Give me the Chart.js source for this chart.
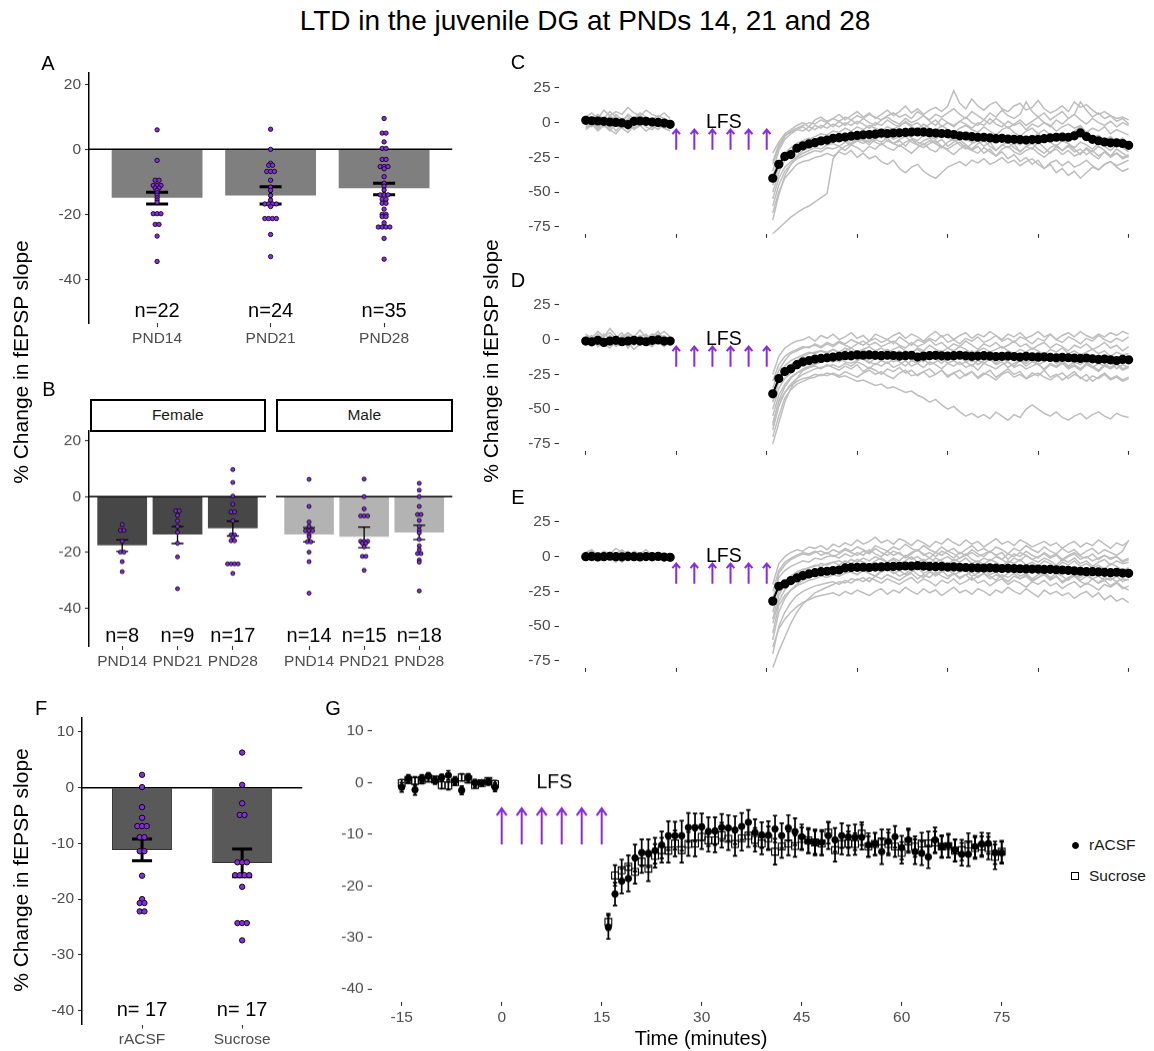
<!DOCTYPE html>
<html>
<head>
<meta charset="utf-8">
<script src="https://cdn.jsdelivr.net/npm/chart.js@4.4.1/dist/chart.umd.min.js"></script>
<style>
  body { margin: 0; width: 1154px; height: 1051px; overflow: hidden; background: #fff; position: relative;
         font-family: "Liberation Sans", Arial, sans-serif; }
  canvas { position: absolute; }
  .t { position: absolute; transform: translate(-50%, -50%); white-space: nowrap; color: #000; line-height: 1; }
  .yt { transform: translate(-50%, -50%) rotate(-90deg); font-size: 21px; }
  .strip { position: absolute; box-sizing: border-box; border: 2px solid #000; background: #fff;
           font-size: 15.5px; color: #1a1a1a; display: flex; align-items: center; justify-content: center; }
  .key { position: absolute; font-size: 15.5px; color: #1a1a1a; line-height: 1; transform: translateY(-50%); }
</style>
</head>
<body>
<script>
// ---------- panel A : all animals ----------
const ageGroups = ['PND14', 'PND21', 'PND28'];
const ageN = [22, 24, 35];
const ageMean = [-14.9, -14.2, -12.0];
const ageLo = [-16.8, -16.8, -14.0];
const ageHi = [-13.2, -11.5, -10.4];
const pnd14 = [6, -3.4, -9.5, -9.5, -11.1, -11.1, -11.1, -11.9, -11.9, -12.6, -13.4, -14.1, -14.9, -15.6, -16.3, -19.8, -19.8, -19.8, -23.1, -23.1, -26.7, -34.5];
const pnd21 = [6.2, 0, -4.3, -4.9, -4.9, -6.8, -6.8, -6.8, -9.5, -11.6, -12.6, -14.2, -15.6, -16.8, -16.8, -16.8, -16.8, -17.6, -21.3, -21.3, -21.3, -21.3, -26.2, -33];
const pnd28 = [9.5, 5, 5, 2.3, 0.3, 0.3, -3.1, -3.1, -5.3, -5.3, -5.3, -6, -8.4, -10.4, -11.3, -12.5, -14, -14, -14, -15.4, -15.4, -16.6, -16.6, -18.4, -20, -20, -20.7, -20.7, -22.6, -23.9, -23.9, -23.9, -23.9, -27.4, -33.8];

// ---------- panel B : by sex ----------
const femaleN = [8, 9, 17];
const femaleMean = [-17.4, -13.6, -11.3];
const femaleLo = [-19.6, -16.8, -14.1];
const femaleHi = [-15.5, -10.7, -8.8];
const maleN = [14, 15, 18];
const maleMean = [-13.6, -14.4, -12.8];
const maleLo = [-16.2, -18.3, -15.4];
const maleHi = [-11.1, -10.9, -10.3];
const f14 = [-10, -12.1, -12.1, -16, -19.9, -19.9, -23.3, -26.9];
const f21 = [-5.1, -5.1, -6.7, -8.7, -10.7, -12.8, -16.7, -21.6, -33];
const f28 = [9.7, 5.1, 0.2, -2.7, -5.5, -5.5, -8.7, -13.7, -13.7, -14.5, -15.8, -15.8, -24.1, -24.1, -24.1, -24.1, -27.5];
const m14 = [6.2, -3.5, -9.1, -10.7, -12.2, -12.2, -12.2, -13.7, -14.5, -16.2, -16.2, -19.9, -23.3, -34.6];
const m21 = [6.3, 0, -4.4, -6.9, -6.9, -6.9, -16, -16, -16, -16.7, -16.7, -18, -21.4, -21.4, -26.4];
const m28 = [4.8, 2.3, 0, -3.5, -6.4, -6.4, -8.5, -10.7, -12, -13, -15.3, -17.6, -19, -20.4, -20.4, -22.7, -23.5, -33.8];

// ---------- panel F : rACSF vs sucrose ----------
const drugGroups = ['rACSF', 'Sucrose'];
const drugN = [17, 17];
const drugMean = [-11.2, -13.5];
const drugLo = [-13.1, -16.0];
const drugHi = [-9.2, -11.0];
const racsfDots = [2.3, 0.1, -3.5, -5.4, -6.9, -6.9, -6.9, -8.9, -8.9, -11.4, -11.4, -15.8, -20, -20.7, -20.7, -22.2, -22.2];
const sucroseDots = [6.3, 0.5, -2.8, -4.9, -4.9, -13.4, -13.4, -13.4, -15.7, -15.7, -15.7, -15.7, -17.8, -24.3, -24.3, -24.3, -27.4];

// ---------- time axes ----------
const baseTimes = Array.from({ length: 15 }, (_, i) => i - 15);   // -15 .. -1
const postTimes = Array.from({ length: 60 }, (_, i) => i + 16);   // 16 .. 75
const lfsTimes = [0, 3, 6, 9, 12, 15];
const timeTicks = [-15, 0, 15, 30, 45, 60, 75];
const traceTicks = [25, 0, -25, -50, -75];
const barTicks = [20, 0, -20, -40];
const drugTicks = [10, 0, -10, -20, -30, -40];

// ---------- panel C : PND14 ----------
const meanC = [1.7, 1.4, 1.2, 1.0, 0.5, 0.2, -0.2, -1.4, 1.0, 1.2, 1.0, 0.5, 0.2, -0.3, -1.2,
  -40, -30, -24.3, -23, -18.4, -16.7, -15.3, -14.4, -13.2, -12.5,
  -11.3, -10.8, -10.4, -9.7, -9.2, -8.7, -8.5, -8.3, -7.5, -7.8,
  -7.5, -7.3, -7.0, -6.8, -6.7, -6.8, -7.2, -7.5, -7.8, -7.9,
  -8.5, -9.5, -9.6, -10.0, -10.5, -10.5, -11.0, -11.5, -11.3, -11.8,
  -12.0, -12.2, -12.5, -12.2, -12.2, -11.5, -11.0, -10.5, -10.3, -10.5,
  -9.5, -7.4, -10.0, -12.0, -13.0, -13.9, -14.5, -14.5, -15.0, -16.3];
const tracesC = [
  [4, 7, 3, 9, 5, 8, 6, 11, 7, 5, 9, 6, 4, 7, 3,
   -22, -14, -8, -5, -2, 0, -3, 2, 4, 1, 3, 6, 2, 5, 8, 4, 7, 3, 6, 9, 5, 8, 12, 7, 10, 6, 9, 11, 8, 12,
   23, 14, 10, 17, 12, 9, 13, 15, 10, 8, 12, 14, 9, 11, 16, 10, 7, 9, 12, 8, 15, 11, 13, 9, 6, 8, 5, 3, 4, 2],
  [-3, 0, -5, -2, -6, -1, -4, -7, -2, 0, -3, -5, -1, -4, -6,
   -80, -76, -72, -68, -65, -62, -60, -57, -54, -51, -26, -20, -17, -15, -13, -12, -14, -10, -11, -9,
   -12, -10, -8, -11, -13, -9, -10, -12, -8, -11, -13, -10, -12, -14, -11, -9, -13, -15, -12, -10,
   -14, -16, -13, -11, -15, -12, -14, -17, -13, -15, -18, -14, -16, -19, -15, -17, -20, -16, -18, -21],
  [2, -1, 4, 0, 3, -2, 1, 5, -1, 2, 0, 3, -2, 1, -1,
   -65, -50, -40, -35, -30, -28, -27, -25, -24, -22, -24, -21, -23, -20, -25, -22, -26, -24, -28, -30,
   -27, -33, -36, -32, -30, -35, -38, -40, -36, -32, -30, -28, -31, -27, -29, -26, -30, -28, -25, -29,
   -27, -31, -28, -26, -30, -33, -29, -27, -31, -28, -32, -30, -27, -31, -34, -30, -28, -32, -35, -33],
  [-2, 1, -4, 0, -3, 2, -1, -5, 1, -2, 0, -3, 1, -2, -4,
   -55, -40, -32, -28, -25, -22, -20, -18, -19, -16, -15, -17, -14, -16, -13, -15, -12, -14, -16, -13,
   -15, -17, -14, -12, -16, -18, -15, -13, -17, -19, -16, -14, -18, -20, -17, -22, -19, -24, -21, -26,
   -23, -28, -25, -30, -27, -33, -30, -36, -33, -38, -35, -40, -36, -32, -34, -30, -28, -31, -29, -27],
  [3, 1, 5, 2, 0, 4, 1, -2, 3, 5, 2, 0, 3, 1, 0,
   -35, -20, -12, -8, -5, -3, -6, -2, -4, 0, -3, 1, -2, 2, -1, 3, 0, -2, 2, 4,
   1, -1, 3, 0, 2, 5, 1, -2, 3, 0, -3, 1, 4, 0, -2, 2, -1, 3, 0, -4,
   -1, 2, -2, 1, 4, 0, -3, 2, -1, 3, 6, 2, -1, 3, 0, -2, 1, -3, 0, -2],
  [0, -3, 2, -1, -4, 1, -2, 3, 0, -2, 1, -1, -3, 0, -2,
   -45, -32, -25, -20, -18, -15, -14, -12, -10, -11, -9, -8, -10, -7, -9, -6, -8, -5, -7, -9,
   -6, -8, -4, -7, -5, -9, -6, -8, -10, -7, -9, -11, -8, -10, -12, -9, -11, -8, -13, -10,
   -12, -9, -14, -11, -8, -12, -10, -13, -9, -11, -8, -6, -10, -12, -14, -11, -15, -13, -17, -16],
  [5, 2, 6, 3, 8, 4, 1, 6, 3, 7, 4, 2, 5, 3, 1,
   -30, -18, -10, -6, -4, -2, 0, -1, 2, 0, 3, 1, 4, 2, 5, 3, 6, 4, 2, 5,
   7, 4, 6, 3, 8, 5, 2, 6, 4, 7, 10, 6, 3, 8, 5, 2, 7, 4, 9, 5,
   3, 6, 15, 8, 4, 7, 2, 5, 8, 3, 6, 15, 9, 4, 7, 3, 5, 1, 3, -1],
  [-4, -1, -6, -2, -5, -8, -3, -1, -5, -2, -6, -3, -1, -4, -2,
   -60, -45, -35, -30, -26, -24, -22, -20, -21, -18, -19, -17, -20, -16, -18, -21, -17, -19, -15, -18,
   -20, -16, -19, -22, -18, -15, -19, -21, -17, -20, -23, -19, -16, -20, -22, -18, -21, -24, -19, -17,
   -21, -23, -20, -18, -22, -25, -21, -19, -23, -20, -24, -22, -19, -23, -26, -21, -24, -22, -25, -23],
  [1, 4, -1, 3, 0, 6, 2, -1, 4, 1, 3, -2, 2, 0, 1,
   -28, -16, -9, -7, -5, -6, -3, -5, -2, -4, -1, -3, 0, -2, 1, -1, -4, 0, -2, 2,
   -1, -3, 1, -2, 0, -4, -1, 2, -3, 0, -2, 1, -1, -4, 0, -2, 3, -1, -3, 1,
   -2, 0, -5, -1, -3, 0, -2, -6, -3, -1, -4, -2, -7, -4, -6, -3, -8, -5, -7, -9],
  [-1, 2, -3, 1, -2, 0, 3, -4, 0, 2, -1, 1, -2, 0, -3,
   -70, -52, -38, -30, -24, -20, -18, -16, -14, -15, -13, -14, -12, -15, -11, -13, -16, -12, -14, -11,
   -15, -13, -17, -12, -14, -16, -13, -15, -18, -14, -12, -16, -19, -15, -13, -17, -14, -20, -16, -18,
   -15, -21, -17, -19, -14, -18, -22, -17, -20, -16, -19, -23, -18, -21, -17, -20, -24, -19, -22, -25],
  [-5, -2, 1, -3, 0, -6, -1, 2, -4, -1, 1, -2, -5, -1, 0,
   -50, -36, -27, -21, -17, -15, -12, -10, -8, -9, -6, -7, -4, -6, -3, -5, -2, -4, -6, -3,
   -5, -2, 0, -3, -5, -1, -4, -6, -2, -5, -8, -4, -2, -5, -7, -3, -6, -9, -5, -3,
   -7, -10, -6, -4, -8, -5, -9, -12, -7, -10, -6, -3, -8, -11, -9, -13, -10, -14, -11, -15],
  [1, -2, 3, 0, 5, 2, -1, 1, 4, 0, -2, 2, 1, -1, 2,
   -38, -28, -22, -18, -15, -13, -11, -13, -10, -12, -9, -11, -13, -10, -8, -12, -14, -11, -9, -13,
   -15, -12, -10, -14, -16, -13, -11, -15, -12, -17, -14, -12, -16, -19, -15, -13, -17, -20, -16, -14,
   -18, -21, -17, -15, -19, -22, -18, -16, -20, -17, -21, -19, -23, -20, -24, -21, -25, -22, -26, -24]
];

// ---------- panel D : PND21 ----------
const meanD = [-1.0, -1.5, -0.5, -2.0, -1.0, -0.5, -1.5, -1.0, -0.5, -1.0, -1.5, -0.5, -0.2, -1.0, -1.0,
  -39, -28, -23, -21, -18, -16, -15, -14, -13.5, -13,
  -12.5, -12, -11.5, -11.5, -11, -11.2, -11, -11.3, -11.5, -11.2,
  -11.4, -11.8, -11.5, -11.2, -12.5, -11.8, -11.5, -11.3, -11.6, -11.8,
  -11.5, -11.2, -11.6, -12, -11.8, -11.5, -11.8, -12.2, -12, -11.8,
  -12.2, -12.5, -12, -12.3, -12.6, -12.4, -12.8, -13, -12.7, -13,
  -13.2, -13.5, -13.2, -13.8, -14.2, -14, -14.5, -15, -14.2, -14.5];
const tracesD = [
  [-3, 1, -5, -2, 2, -4, 0, -6, -1, 3, -2, -5, 0, -3, -1,
   -60, -45, -38, -33, -30, -28, -27, -25, -26, -24, -25, -27, -26, -28, -30, -29, -31, -33, -32, -35,
   -34, -36, -38, -37, -40, -42, -45, -43, -47, -50, -48, -52, -55, -53, -56, -54, -57, -52, -55, -58,
   -54, -56, -50, -47, -50, -53, -55, -52, -56, -58, -55, -53, -57, -54, -52, -55, -57, -53, -55, -56],
  [2, -1, 4, 0, -3, 1, 5, -2, 0, 3, -1, 2, 6, 0, -2,
   -75, -60, -45, -35, -28, -22, -20, -18, -16, -15, -14, -16, -13, -15, -12, -14, -17, -13, -15, -12,
   -16, -14, -11, -15, -13, -16, -12, -14, -17, -13, -15, -12, -16, -14, -18, -15, -13, -17, -14, -16,
   -19, -15, -17, -14, -18, -16, -13, -17, -15, -19, -16, -18, -15, -20, -17, -19, -16, -21, -18, -20],
  [4, 1, 6, 2, 8, 3, 0, 5, 2, 7, 1, 4, 3, 6, 2,
   -25, -12, -6, -3, -1, 0, 2, -1, 3, 1, 4, 0, 2, 5, 1, 3, -1, 4, 2, 0,
   3, 5, 1, 4, 2, -1, 3, 6, 2, 4, 0, 3, 5, 1, 4, 2, 6, 3, 0, 4,
   2, 5, 1, 3, 6, 2, 4, 0, 3, 5, 2, 6, 3, 1, 4, 2, 5, 3, 6, 4],
  [-1, 2, -3, 0, 1, -2, 3, -1, -4, 0, 2, -2, 1, -1, 0,
   -45, -30, -22, -18, -15, -12, -10, -9, -8, -10, -7, -9, -6, -8, -10, -7, -5, -8, -6, -9,
   -7, -5, -8, -10, -6, -8, -4, -7, -9, -6, -8, -5, -7, -10, -8, -6, -9, -7, -5, -8,
   -10, -7, -9, -6, -8, -11, -7, -9, -6, -10, -8, -11, -9, -7, -10, -8, -12, -9, -11, -10],
  [-2, -5, 0, -3, -6, -1, -4, -2, -7, -3, 0, -4, -2, -5, -1,
   -70, -55, -42, -36, -32, -30, -28, -27, -25, -26, -24, -26, -23, -25, -27, -24, -22, -25, -23, -26,
   -28, -24, -22, -26, -25, -23, -27, -25, -22, -26, -24, -28, -25, -23, -27, -24, -26, -29, -25, -23,
   -27, -25, -28, -26, -24, -27, -29, -26, -24, -28, -25, -27, -30, -26, -28, -25, -29, -27, -30, -28],
  [1, -2, 0, -4, 2, -1, -3, 1, 0, -2, -4, 1, -1, -3, 0,
   -50, -35, -28, -24, -20, -18, -17, -15, -14, -13, -14, -12, -13, -11, -14, -12, -10, -13, -11, -14,
   -12, -15, -13, -11, -14, -12, -10, -13, -15, -12, -14, -11, -13, -16, -12, -14, -11, -15, -13, -10,
   -14, -12, -16, -13, -15, -11, -14, -12, -16, -14, -17, -13, -15, -12, -16, -14, -17, -15, -13, -16],
  [3, 0, -2, 4, 1, -1, 2, 5, 0, -3, 2, 1, 4, -1, 1,
   -35, -22, -15, -10, -8, -6, -5, -4, -6, -3, -5, -2, -4, -6, -3, -1, -4, -2, -5, -3,
   -1, -4, -6, -2, -5, -3, 0, -4, -2, -6, -3, -5, -1, -4, -7, -3, -5, -2, -6, -4,
   -1, -5, -3, -7, -4, -2, -6, -3, -5, -8, -4, -6, -3, -7, -5, -2, -6, -4, -8, -5],
  [-3, 0, -1, -5, -2, 1, -4, -1, -3, 0, -2, -5, -1, -3, -2,
   -65, -48, -38, -32, -28, -25, -23, -21, -20, -19, -18, -20, -17, -19, -16, -18, -21, -17, -19, -16,
   -20, -18, -15, -19, -17, -20, -16, -18, -21, -17, -19, -16, -20, -18, -22, -17, -19, -21, -18, -16,
   -20, -18, -21, -19, -17, -22, -18, -20, -17, -21, -19, -22, -18, -20, -23, -19, -21, -18, -22, -20],
  [0, 3, -1, 2, 5, 1, -2, 3, 0, 2, 4, -1, 1, 3, 0,
   -30, -18, -12, -9, -7, -5, -6, -3, -5, -2, -4, -1, -3, 0, -2, -4, -1, 1, -2, 0,
   -3, 2, -1, -4, 0, -2, 1, -1, 3, -2, 0, -3, 1, -1, 2, -2, 0, 3, -1, 1,
   -2, 2, 0, -3, 1, -1, 4, 0, -2, 2, 0, -3, 1, -1, 3, 0, -2, 1, -1, 2],
  [-1, -4, 1, -2, 0, -5, -2, 2, -3, -1, 0, -4, -2, 1, -3,
   -55, -40, -32, -27, -24, -22, -20, -19, -21, -18, -20, -22, -19, -21, -18, -23, -20, -22, -25, -21,
   -23, -20, -24, -22, -26, -23, -21, -25, -22, -27, -24, -22, -26, -23, -28, -25, -22, -27, -24, -21,
   -25, -23, -28, -24, -26, -22, -27, -25, -29, -26, -23, -28, -25, -30, -27, -24, -28, -26, -29, -27],
  [2, -2, 1, -1, 3, 0, -3, 2, 1, -1, 3, 0, -2, 2, 1,
   -40, -26, -19, -15, -13, -11, -9, -10, -8, -9, -7, -10, -8, -6, -9, -7, -10, -12, -9, -7,
   -10, -8, -11, -9, -7, -10, -13, -9, -8, -11, -9, -12, -10, -8, -11, -9, -13, -10, -12, -9,
   -11, -14, -10, -12, -9, -13, -11, -14, -12, -10, -13, -11, -15, -12, -14, -11, -13, -16, -12, -14],
  [-2, 1, -1, -3, 0, 2, -2, 0, -4, 1, -1, -3, 0, -2, 1,
   -62, -44, -34, -28, -24, -21, -19, -17, -16, -15, -16, -14, -16, -17, -15, -13, -16, -18, -15, -17,
   -14, -16, -19, -15, -17, -14, -18, -16, -13, -17, -15, -18, -16, -19, -15, -17, -14, -18, -16, -20,
   -17, -15, -19, -16, -18, -21, -17, -19, -16, -20, -18, -21, -17, -19, -22, -18, -20, -17, -21, -19]
];

// ---------- panel E : PND28 ----------
const meanE = [0, 0.2, -0.2, 0, 0.3, 0, -0.1, 0.2, 0, -0.2, 0.1, 0, 0.2, -0.3, -0.5,
  -32, -21.3, -19.6, -17.2, -15.3, -13.6, -12.4, -11.5, -10.8, -10.5,
  -10, -9.6, -8.1, -7.8, -7.7, -7.6, -7.8, -7.5, -7.4, -7.2,
  -7, -6.9, -6.7, -6.8, -6.5, -6.8, -7, -7.2, -7, -7.5,
  -7.3, -7.6, -7.8, -8, -8.1, -8.2, -8, -8.3, -8.5, -8.4,
  -8.6, -8.7, -8.8, -8.9, -8.9, -9.2, -9.1, -9.4, -9.6, -9.8,
  -10.2, -10.5, -10.8, -10.8, -11, -11.3, -11.5, -11.2, -11.8, -12];
const tracesE = [
  [3, 5, 1, 4, 2, 6, 3, 0, 4, 2, 5, 1, 3, 2, 0,
   -20, -5, 0, 3, 5, 4, 7, 6, 8, 5, 9, 7, 10, 8, 12, 9, 11, 14, 10, 12,
   9, 13, 11, 8, 12, 10, 7, 11, 9, 13, 10, 8, 12, 9, 11, 7, 10, 13, 9, 11,
   8, 12, 10, 7, 9, 11, 8, 10, 6, 9, 11, 7, 10, 8, 12, 9, 6, 10, 8, 11],
  [-2, 0, -3, 1, -1, -4, 0, 2, -2, -1, 1, -3, 0, -1, -2,
   -80, -68, -58, -48, -40, -34, -30, -26, -24, -22, -20, -18, -19, -16, -17, -15, -18, -14, -16, -13,
   -15, -17, -14, -12, -16, -13, -15, -11, -14, -16, -12, -15, -13, -17, -14, -12, -16, -13, -15, -18,
   -14, -16, -13, -17, -15, -12, -16, -14, -18, -15, -13, -17, -14, -16, -19, -15, -17, -14, -18, -16],
  [1, -2, 2, -1, 0, 3, -3, 1, -1, 2, 0, -2, 1, -1, 0,
   -65, -52, -45, -40, -36, -33, -31, -29, -28, -27, -26, -28, -25, -27, -24, -26, -28, -25, -23, -27,
   -24, -26, -22, -25, -27, -23, -26, -24, -28, -25, -22, -26, -24, -27, -23, -25, -28, -24, -26, -22,
   -25, -27, -23, -26, -29, -24, -27, -25, -28, -26, -30, -27, -25, -29, -26, -31, -28, -32, -30, -33],
  [0, 2, -1, 1, 3, -2, 0, 1, -1, 2, 0, 1, -2, 0, -1,
   -40, -25, -18, -14, -11, -9, -8, -6, -7, -5, -4, -6, -3, -5, -2, -4, -6, -3, -1, -4,
   -2, -5, -3, 0, -4, -2, -5, -1, -3, -6, -2, -4, -1, -5, -3, -6, -2, -4, -7, -3,
   -5, -2, -6, -4, -7, -3, -5, -8, -4, -6, -3, -7, -5, -8, -6, -9, -5, -7, -10, -8],
  [-1, 1, 0, -2, 2, -1, 1, -3, 0, 1, -1, 2, 0, -2, 1,
   -55, -35, -28, -24, -21, -19, -17, -16, -14, -15, -13, -14, -12, -11, -13, -10, -12, -14, -11, -9,
   -12, -10, -13, -11, -8, -12, -10, -14, -11, -9, -13, -11, -10, -14, -12, -9, -13, -11, -15, -12,
   -10, -14, -12, -16, -13, -11, -15, -12, -14, -17, -13, -15, -12, -16, -14, -17, -15, -18, -16, -17],
  [2, 0, 3, 1, -1, 2, 4, 0, 2, -1, 1, 3, 0, 2, 1,
   -30, -15, -10, -7, -5, -3, -4, -1, -2, 0, 1, -1, 2, 0, 3, 1, 5, 2, 0, 4,
   1, 3, -1, 2, 5, 1, 3, 0, 4, 2, -1, 3, 1, 5, 2, 0, 4, 1, 3, -2,
   2, 0, 4, 1, -1, 3, 0, 2, -2, 1, 3, 0, -1, 2, -2, 1, -1, 0, -3, -1],
  [-1, -3, 0, -2, 1, -1, -4, 0, -2, -1, 1, -3, -1, 0, -2,
   -70, -50, -40, -33, -28, -25, -23, -21, -20, -19, -18, -20, -17, -19, -16, -18, -15, -17, -19, -16,
   -18, -20, -17, -15, -19, -16, -18, -21, -17, -19, -16, -20, -18, -15, -19, -17, -21, -18, -16, -20,
   -17, -19, -22, -18, -20, -17, -21, -19, -23, -20, -18, -22, -19, -21, -24, -20, -22, -19, -23, -21],
  [1, 3, 0, 2, -1, 1, 2, 4, 0, 1, 3, 0, 2, 1, -1,
   -45, -28, -20, -15, -12, -10, -8, -7, -5, -6, -4, -3, -5, -2, -4, -1, -3, 0, -2, -4,
   -1, -3, 1, -2, 0, -3, -1, -4, -2, 0, -3, -1, 2, -2, -4, -1, -3, 0, -2, -5,
   -1, -3, 1, -2, -4, -1, -3, -6, -2, -4, -1, -5, -3, -7, -4, -2, -6, -3, -5, -4],
  [0, -1, 2, -2, 1, 0, -1, 3, -1, 0, 2, -1, 1, -2, 0,
   -60, -40, -30, -24, -20, -17, -15, -13, -12, -11, -10, -9, -11, -8, -10, -7, -9, -6, -8, -10,
   -7, -9, -6, -8, -5, -9, -7, -10, -6, -8, -11, -7, -9, -6, -10, -8, -5, -9, -7, -11,
   -8, -10, -6, -9, -12, -8, -10, -7, -11, -9, -12, -8, -10, -13, -9, -11, -14, -10, -12, -13],
  [2, 4, 1, 3, 0, 2, 5, 1, 3, 2, 0, 3, 1, 2, 0,
   -35, -12, -6, -2, 0, 2, 1, 3, 4, 2, 5, 3, 6, 4, 7, 5, 3, 8, 6, 4,
   7, 5, 9, 6, 4, 8, 5, 3, 7, 4, 6, 2, 5, 8, 4, 6, 3, 7, 5, 2,
   6, 4, 8, 5, 3, 7, 4, 2, 6, 3, 5, 1, 4, 6, 2, 5, 3, 1, 4, 12],
  [-3, 0, 1, -2, 2, -1, 0, -3, 1, -1, 2, 0, -2, 1, -1,
   -48, -32, -24, -19, -16, -14, -12, -10, -11, -9, -12, -10, -8, -11, -13, -9, -12, -14, -10, -8,
   -11, -14, -12, -9, -13, -15, -11, -13, -10, -14, -12, -16, -13, -11, -15, -12, -14, -17, -13, -15,
   -12, -16, -14, -18, -15, -13, -17, -14, -19, -16, -14, -18, -20, -16, -19, -17, -21, -18, -22, -24],
  [1, 2, -1, 0, 3, 1, -2, 0, 2, 1, -1, 0, 2, 0, 1,
   -25, -10, -4, -1, 1, 3, 2, 4, 1, 3, 0, 2, 5, 3, 1, 4, 2, 6, 3, 1,
   4, 2, 0, 3, 5, 2, -1, 3, 1, 4, 2, -1, 1, 3, 0, 2, 4, 1, -2, 2,
   0, 3, 1, -2, 0, 2, -1, 1, -3, 0, 2, -2, 0, -3, -1, 1, -2, 0, -4, -2]
];

// ---------- panel G : rACSF vs sucrose time course ----------
const racsfMean = [-0.9, 0.8, -1.4, 0.7, 1.3, 0.4, 1.0, 1.4, 0.4, -1.5, 1.0, 0, 0, 0.1, -0.9,
  -28.0, -21.6, -19.1, -18.6, -14.6, -13.6, -13.7, -13.2, -12.1, -10.3,
  -10.3, -10.3, -8.7, -8.7, -8.6, -9.5, -9.4, -8.7, -8.8, -9.2,
  -8.5, -7.7, -9.7, -10.2, -10.2, -9.0, -10.3, -8.8, -9.5, -10.5,
  -11.4, -11.6, -11.6, -10.3, -11.1, -10.3, -10.5, -10.6, -10.6, -12.1,
  -11.9, -13.4, -11.4, -10.5, -12.6, -11.1, -13.4, -13.7, -14.4, -11.1,
  -12.4, -12.2, -13.1, -13.9, -13.9, -12.4, -11.9, -11.8, -13.6, -13.6];
const racsfSem = [0.9, 0.7, 1.0, 0.8, 0.6, 0.7, 0.6, 0.9, 0.7, 0.8, 0.7, 0.6, 0.5, 0.6, 0.8,
  2.3, 2.2, 2.4, 2.5, 2.6, 2.6, 2.7, 2.5, 2.6, 2.8,
  2.7, 2.9, 2.8, 2.7, 2.6, 2.8, 2.7, 2.6, 2.5, 2.7,
  2.6, 2.4, 2.6, 2.5, 2.7, 2.6, 2.4, 2.5, 2.6, 2.4,
  2.3, 2.5, 2.4, 2.6, 2.3, 2.4, 2.2, 2.5, 2.4, 2.3,
  2.2, 2.4, 2.3, 2.1, 2.3, 2.2, 2.4, 2.3, 2.2, 2.4,
  2.2, 2.3, 2.1, 2.2, 2.3, 2.1, 2.2, 2.0, 2.2, 2.1];
const sucroseMean = [-0.1, 0.5, 0.3, 0.5, 0.8, 0.6, -0.5, -0.6, 0.1, 1.0, 0.6, -0.5, -0.1, 0.3, -0.3,
  -27.0, -18.0, -17.0, -16.3, -17.3, -15.3, -16.7, -14.2, -13.1, -13.2,
  -11.8, -13.1, -11.9, -11.8, -10.5, -11.2, -11.2, -10.2, -10.9, -11.9,
  -10.8, -10.3, -11.1, -11.8, -10.8, -13.4, -12.4, -11.8, -12.3, -10.9,
  -11.2, -11.6, -11.8, -9.7, -13.1, -11.9, -11.8, -11.9, -9.9, -12.4,
  -11.9, -11.4, -11.9, -12.4, -13.6, -11.4, -12.4, -11.8, -11.8, -11.6,
  -12.4, -12.3, -13.2, -13.1, -12.0, -12.7, -12.4, -12.7, -14.4, -13.4];
const sucroseSem = [0.7, 0.6, 0.8, 0.7, 0.6, 0.5, 0.7, 0.8, 0.6, 0.7, 0.6, 0.5, 0.6, 0.5, 0.7,
  1.6, 2.0, 2.1, 2.2, 2.3, 2.2, 2.4, 2.3, 2.4, 2.3,
  2.5, 2.4, 2.3, 2.5, 2.4, 2.2, 2.3, 2.4, 2.2, 2.3,
  2.4, 2.2, 2.3, 2.1, 2.3, 2.5, 2.2, 2.3, 2.1, 2.2,
  2.4, 2.2, 2.3, 2.1, 2.2, 2.0, 2.3, 2.1, 2.2, 2.0,
  2.1, 2.3, 2.2, 2.0, 2.1, 2.2, 2.0, 2.1, 2.3, 2.1,
  2.0, 2.2, 2.1, 2.0, 2.2, 2.1, 2.0, 2.2, 2.4, 2.1];

// ---------- styles ----------
const FONT = '"Liberation Sans", Arial, sans-serif';
const PURPLE = '#8a2be2';
const GREY_LINE = '#bebebe';
Chart.defaults.font.family = FONT;
Chart.defaults.color = '#4d4d4d';

// ---------- helpers ----------
function makeCanvas(box) {
  const c = document.createElement('canvas');
  c.width = box.w; c.height = box.h;
  Object.assign(c.style, { left: box.l + 'px', top: box.t + 'px', width: box.w + 'px', height: box.h + 'px' });
  document.body.appendChild(c);
  return c;
}

function addText(txt, x, y, size, cls) {
  const d = document.createElement('div');
  d.className = cls || 't';
  d.textContent = txt;
  d.style.left = x + 'px'; d.style.top = y + 'px';
  if (size) d.style.fontSize = size + 'px';
  document.body.appendChild(d);
  return d;
}

// beeswarm-like dodge: equal values sit side by side
function swarm(center, values, step) {
  const counts = {}, seen = {};
  values.forEach(v => { counts[v] = (counts[v] || 0) + 1; });
  return values.map(v => {
    const k = seen[v] = (seen[v] || 0) + 1;
    return { x: center + (k - 1 - (counts[v] - 1) / 2) * step, y: v };
  });
}

// time course with a gap over the stimulation period
function course(vals) {
  return [
    ...baseTimes.map((t, i) => ({ x: t, y: vals[i] })),
    { x: 7.5, y: null },
    ...postTimes.map((t, i) => ({ x: t, y: vals[15 + i] }))
  ];
}

// canvas box around a plot area; 16px spare above so axis label padding never moves the area
function boxFor(area, left, right, bottom) {
  return { l: left, t: area.t - 16, w: right - left, h: bottom - (area.t - 16) };
}

function frame(box, area, xr, yr, o) {
  return {
    responsive: false, animation: false, devicePixelRatio: 1, events: [],
    layout: { autoPadding: false, padding: {
      left: o.yShown ? 0 : area.l - box.l, top: area.t - box.t,
      right: box.l + box.w - area.r, bottom: 0 } },
    plugins: { legend: { display: false }, tooltip: { enabled: false } },
    scales: {
      x: {
        type: 'linear', min: xr[0], max: xr[1], offset: false,
        afterBuildTicks: s => { s.ticks = o.xTicks.map(v => ({ value: v })); },
        afterFit: s => { s.height = box.t + box.h - area.b; },
        grid: { offset: false, drawOnChartArea: false, drawTicks: true, tickLength: 4, tickWidth: 1.1, tickColor: '#333' },
        border: { display: false },
        ticks: { display: !!o.xLabel, callback: o.xLabel || (v => String(v)), color: '#4d4d4d',
                 font: { size: 15.5 }, padding: 2, maxRotation: 0, autoSkip: false }
      },
      y: {
        type: 'linear', min: yr[0], max: yr[1], display: o.yShown,
        afterBuildTicks: s => { s.ticks = o.yTicks.map(v => ({ value: v })); },
        afterFit: s => { s.width = o.yShown ? area.l - box.l : 0; },
        grid: { drawOnChartArea: false, drawTicks: true, tickLength: 4, tickWidth: 1.1, tickColor: '#333' },
        border: { display: !!o.yBorder, color: '#000', width: 1.5 },
        ticks: { callback: v => String(v), color: '#4d4d4d', font: { size: 15.5 }, padding: 4 }
      }
    }
  };
}

// zero line + error bars (after bars), and n labels
function barExtras(lo, hi, capHalf, lw, ns, nPrefix, nY) {
  return {
    id: 'barExtras',
    afterDatasetDraw(chart, args) {
      if (args.meta.type !== 'bar') return;
      const { ctx, chartArea: a, scales: { x, y } } = chart;
      ctx.save();
      ctx.strokeStyle = '#000';
      ctx.lineWidth = 1.5;
      const y0 = y.getPixelForValue(0);
      ctx.beginPath(); ctx.moveTo(a.left, y0); ctx.lineTo(a.right, y0); ctx.stroke();
      ctx.lineWidth = lw;
      lo.forEach((l, i) => {
        const px = x.getPixelForValue(i);
        const p1 = y.getPixelForValue(l), p2 = y.getPixelForValue(hi[i]);
        ctx.beginPath();
        ctx.moveTo(px, p1); ctx.lineTo(px, p2);
        ctx.moveTo(px - capHalf, p1); ctx.lineTo(px + capHalf, p1);
        ctx.moveTo(px - capHalf, p2); ctx.lineTo(px + capHalf, p2);
        ctx.stroke();
      });
      ctx.restore();
    },
    afterDraw(chart) {
      const { ctx, scales: { x, y } } = chart;
      ctx.save();
      ctx.fillStyle = '#000';
      ctx.font = '20px ' + FONT;
      ctx.textAlign = 'center'; ctx.textBaseline = 'middle';
      ns.forEach((n, i) => ctx.fillText(nPrefix + n, x.getPixelForValue(i), y.getPixelForValue(nY)));
      ctx.restore();
    }
  };
}

function lfsMarks(y0, y1, headW, headH) {
  return {
    id: 'lfsMarks',
    afterDatasetsDraw(chart) {
      const { ctx, scales: { x, y } } = chart;
      ctx.save();
      ctx.strokeStyle = PURPLE; ctx.lineWidth = 2; ctx.lineJoin = 'miter';
      lfsTimes.forEach(t => {
        const px = x.getPixelForValue(t), pb = y.getPixelForValue(y0), pt = y.getPixelForValue(y1);
        ctx.beginPath();
        ctx.moveTo(px, pb); ctx.lineTo(px, pt + 0.5);
        ctx.moveTo(px - headW, pt + headH); ctx.lineTo(px, pt); ctx.lineTo(px + headW, pt + headH);
        ctx.stroke();
      });
      ctx.fillStyle = '#000';
      ctx.font = '19.5px ' + FONT;
      ctx.textAlign = 'center'; ctx.textBaseline = 'middle';
      ctx.fillText('LFS', x.getPixelForValue(7.9), y.getPixelForValue(0));
      ctx.restore();
    }
  };
}

function dots(points, r, bw) {
  return { type: 'scatter', data: points, pointRadius: r, pointBackgroundColor: PURPLE,
           pointBorderColor: '#000', pointBorderWidth: bw, order: 1 };
}

// ---------- A ----------
{
  const area = { l: 89, t: 72.9, r: 452.2, b: 323.2 };
  const box = boxFor(area, 30, 460, 355);
  const opts = frame(box, area, [-0.6, 2.6], [-53.5, 23.5],
    { xTicks: [0, 1, 2], xLabel: v => ageGroups[v], yTicks: barTicks, yShown: true, yBorder: true });
  const step = 0.034;
  new Chart(makeCanvas(box), {
    type: 'bar',
    data: { datasets: [
      { type: 'bar', data: ageMean.map((v, i) => ({ x: i, y: v })), backgroundColor: '#7f7f7f',
        borderWidth: 0, barPercentage: 0.8, categoryPercentage: 1, order: 3 },
      dots(swarm(0, pnd14, step), 2.2, 0.8),
      dots(swarm(1, pnd21, step), 2.2, 0.8),
      dots(swarm(2, pnd28, step), 2.2, 0.8)
    ] },
    options: opts,
    plugins: [barExtras(ageLo, ageHi, 11, 3, ageN, 'n=', -50)]
  });
}

// ---------- B ----------
{
  const sexPanels = [
    { area: { l: 89, t: 431.1, r: 266, b: 646 }, left: 30, right: 270,
      mean: femaleMean, lo: femaleLo, hi: femaleHi, n: femaleN, pts: [f14, f21, f28], fill: '#474747', yShown: true },
    { area: { l: 276, t: 431.1, r: 452.3, b: 646 }, left: 270, right: 460,
      mean: maleMean, lo: maleLo, hi: maleHi, n: maleN, pts: [m14, m21, m28], fill: '#b3b3b3', yShown: false }
  ];
  sexPanels.forEach(p => {
    const box = boxFor(p.area, p.left, p.right, 672);
    const opts = frame(box, p.area, [-0.6, 2.6], [-53.5, 23.5],
      { xTicks: [0, 1, 2], xLabel: v => ageGroups[v], yTicks: barTicks, yShown: p.yShown, yBorder: true });
    new Chart(makeCanvas(box), {
      type: 'bar',
      data: { datasets: [
        { type: 'bar', data: p.mean.map((v, i) => ({ x: i, y: v })), backgroundColor: p.fill,
          borderWidth: 0, barPercentage: 0.9, categoryPercentage: 1, order: 3 },
        ...p.pts.map((vals, i) => dots(swarm(i, vals, 0.064), 2.0, 0.8))
      ] },
      options: opts,
      plugins: [barExtras(p.lo, p.hi, 6, 1.3, p.n, 'n=', -50)]
    });
  });
}

// ---------- C, D, E ----------
[[meanC, tracesC, 0], [meanD, tracesD, 217], [meanE, tracesE, 434]].forEach(([mean, traces, shift]) => {
  const area = { l: 558.6, t: 80.5 + shift, r: 1155.8, b: 233.8 + shift };
  const box = boxFor(area, 500, 1160, 252 + shift);
  const opts = frame(box, area, [-19.5, 79.5], [-80, 30],
    { xTicks: timeTicks, xLabel: null, yTicks: traceTicks, yShown: true, yBorder: false });
  new Chart(makeCanvas(box), {
    type: 'line',
    data: { datasets: [
      ...traces.map(tr => ({ data: course(tr), borderColor: GREY_LINE, borderWidth: 1.5,
                              pointRadius: 0, tension: 0, spanGaps: false, order: 2 })),
      { data: course(mean), borderColor: '#000', borderWidth: 2, pointRadius: 3.6,
        pointBackgroundColor: '#000', pointBorderColor: '#000', tension: 0, spanGaps: false, order: 1 }
    ] },
    options: opts,
    plugins: [lfsMarks(-19.5, -5, 3.8, 4.5)]
  });
});

// ---------- F ----------
{
  const area = { l: 82, t: 718, r: 302.2, b: 1024.5 };
  const box = boxFor(area, 20, 310, 1051);
  const opts = frame(box, area, [-0.6, 1.6], [-42.5, 12.5],
    { xTicks: [0, 1], xLabel: v => drugGroups[v], yTicks: drugTicks, yShown: true, yBorder: true });
  new Chart(makeCanvas(box), {
    type: 'bar',
    data: { datasets: [
      { type: 'bar', data: drugMean.map((v, i) => ({ x: i, y: v })), backgroundColor: '#595959',
        borderColor: '#333', borderWidth: 1, barPercentage: 0.6, categoryPercentage: 1, order: 3 },
      dots(swarm(0, racsfDots, 0.047), 2.7, 0.9),
      dots(swarm(1, sucroseDots, 0.047), 2.7, 0.9)
    ] },
    options: opts,
    plugins: [barExtras(drugLo, drugHi, 10, 3, drugN, 'n= ', -40)]
  });
}

// ---------- G ----------
{
  const area = { l: 371.7, t: 718.2, r: 1031.7, b: 1002 };
  const box = boxFor(area, 310, 1050, 1051);
  const opts = frame(box, area, [-19.5, 79.5], [-42.5, 12.5],
    { xTicks: timeTicks, xLabel: v => String(v), yTicks: drugTicks, yShown: true, yBorder: false });
  const times = [...baseTimes, ...postTimes];
  const semBars = {
    id: 'semBars',
    beforeDatasetsDraw(chart) {
      const { ctx, scales: { x, y } } = chart;
      ctx.save();
      ctx.strokeStyle = '#000'; ctx.lineWidth = 1.7;
      [[racsfMean, racsfSem], [sucroseMean, sucroseSem]].forEach(([m, s]) => {
        times.forEach((t, i) => {
          const px = x.getPixelForValue(t);
          const p1 = y.getPixelForValue(m[i] - s[i]), p2 = y.getPixelForValue(m[i] + s[i]);
          ctx.beginPath();
          ctx.moveTo(px, p1); ctx.lineTo(px, p2);
          ctx.moveTo(px - 2.2, p1); ctx.lineTo(px + 2.2, p1);
          ctx.moveTo(px - 2.2, p2); ctx.lineTo(px + 2.2, p2);
          ctx.stroke();
        });
      });
      ctx.restore();
    }
  };
  new Chart(makeCanvas(box), {
    type: 'scatter',
    data: { datasets: [
      { label: 'rACSF', data: times.map((t, i) => ({ x: t, y: racsfMean[i] })), pointStyle: 'circle',
        pointRadius: 3.2, pointBackgroundColor: '#000', pointBorderColor: '#000', pointBorderWidth: 1, order: 2 },
      { label: 'Sucrose', data: times.map((t, i) => ({ x: t, y: sucroseMean[i] })), pointStyle: 'rect',
        pointRadius: 4.8, pointBackgroundColor: 'rgba(255,255,255,0)', pointBorderColor: '#000', pointBorderWidth: 1.1, order: 1 }
    ] },
    options: opts,
    plugins: [semBars, lfsMarks(-12, -5, 5, 7)]
  });
}

// ---------- text, strips, legend ----------
addText('LTD in the juvenile DG at PNDs 14, 21 and 28', 585, 21, 28);
[['A', 48, 63], ['B', 49, 389], ['C', 518, 62], ['D', 518, 280], ['E', 518, 497], ['F', 41, 708], ['G', 333, 708]]
  .forEach(([s, x, y]) => addText(s, x, y, 20));
addText('% Change in fEPSP slope', 20, 362, null, 't yt');
addText('% Change in fEPSP slope', 490, 361, null, 't yt');
addText('% Change in fEPSP slope', 20, 870, null, 't yt');
addText('Time (minutes)', 701, 1038, 20);

[['Female', 89.5, 176.5], ['Male', 276, 176.5]].forEach(([s, x, w]) => {
  const d = document.createElement('div');
  d.className = 'strip';
  Object.assign(d.style, { left: x + 'px', top: '399px', width: w + 'px', height: '32.5px' });
  d.textContent = s;
  document.body.appendChild(d);
});

const legendItems = [['rACSF', 845, 'circle'], ['Sucrose', 876, 'square']];
legendItems.forEach(([s, y, shape]) => {
  const m = document.createElement('div');
  const size = shape === 'circle' ? 7 : 8;
  Object.assign(m.style, { position: 'absolute', left: (1075 - size / 2) + 'px', top: (y - size / 2) + 'px',
    width: size + 'px', height: size + 'px', boxSizing: 'border-box',
    borderRadius: shape === 'circle' ? '50%' : '0', background: shape === 'circle' ? '#000' : 'transparent',
    border: '1.2px solid #000' });
  document.body.appendChild(m);
  const k = document.createElement('div');
  k.className = 'key'; k.textContent = s;
  k.style.left = '1089px'; k.style.top = y + 'px';
  document.body.appendChild(k);
});
</script>
</body>
</html>
